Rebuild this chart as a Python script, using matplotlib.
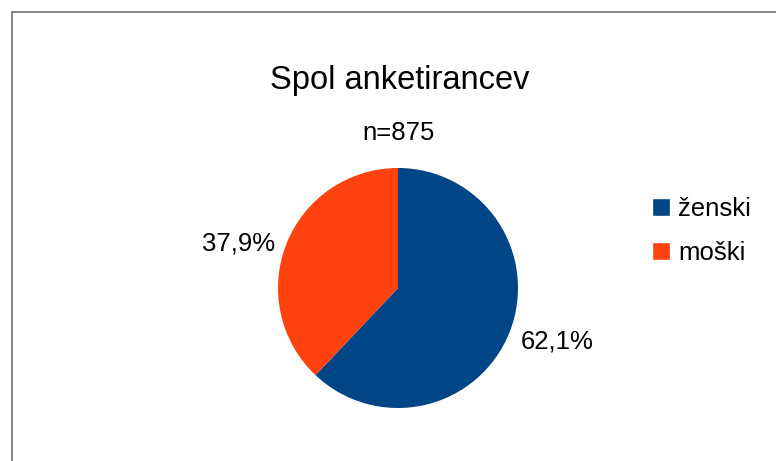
import matplotlib.pyplot as plt
from matplotlib.patches import Rectangle, Patch

plt.rcParams["font.family"] = ["Liberation Sans", "DejaVu Sans"]

categories = ["ženski", "moški"]
counts = [543, 332]
pct_labels = ["62,1%", "37,9%"]
colors = ["#004586", "#ff420e"]

W, H = 776, 461
fig = plt.figure(figsize=(W / 100, H / 100), dpi=100)

# outer frame (left and top edges visible)
fig.patches.append(Rectangle((11.5 / W, -0.1), 2.0, 1.1 - 12.5 / H,
                             transform=fig.transFigure, fill=False,
                             edgecolor="#6f6f6f", linewidth=1.2))

cx, cy, r = 398, 288, 120
ax = fig.add_axes([(cx - r) / W, (H - cy - r) / H, 2 * r / W, 2 * r / H])
wedges, texts = ax.pie(counts, labels=pct_labels, colors=colors, startangle=90,
                       counterclock=False, labeldistance=1.1, radius=1,
                       textprops={"fontsize": 18.5})
for t in texts:
    x, y = t.get_position()
    t.set_position((x, y - 0.035))
ax.set_xlim(-1, 1)
ax.set_ylim(-1, 1)
ax.set_aspect("equal")
ax.axis("off")

fig.text(400 / W, 1 - 80 / H, "Spol anketirancev", ha="center", va="center",
         fontsize=23.5)
fig.text(399 / W, 1 - 133 / H, "n=875", ha="center", va="center",
         fontsize=18.5)

handles = [Patch(facecolor=c, edgecolor="white") for c in colors]
fig.legend(handles, categories, loc="center left",
           bbox_to_anchor=(629 / W, 1 - 231 / H), frameon=False,
           fontsize=18.5, handlelength=0.68, handleheight=0.68,
           handletextpad=0.33, labelspacing=0.78)

fig.savefig("out.png", dpi=100)
